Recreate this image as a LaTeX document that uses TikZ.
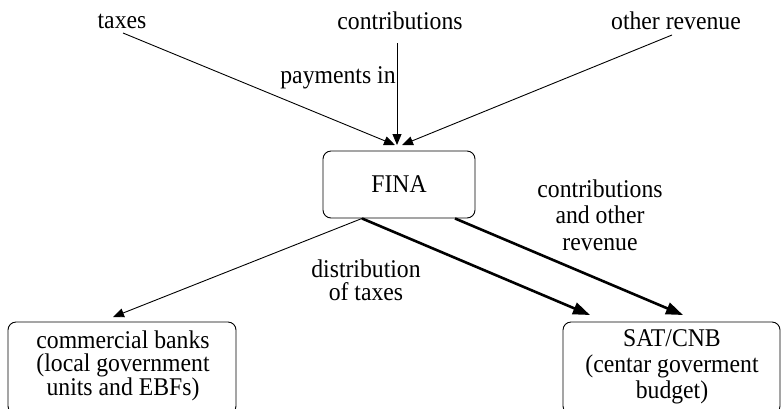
\documentclass[tikz,border=0pt]{standalone}
\usepackage{fontspec}
\setmainfont{Liberation Serif}[FakeStretch=0.93]
\usetikzlibrary{arrows.meta}
\begin{document}
\begin{tikzpicture}[x=1pt,y=-1pt,
  lbl/.style={font=\fontsize{25.5}{25}\selectfont, inner sep=0pt, align=center},
  box/.style={draw, rounded corners=8pt, line width=0.9pt, inner sep=0pt},
  thinarrow/.style={line width=0.9pt, -{Triangle[length=11pt,width=9pt]}},
  thickarrow/.style={line width=2.6pt, -{Triangle[length=17pt,width=12pt]}}]
\useasboundingbox (0,0) rectangle (781,408);
\clip (0,0) rectangle (781,408);

% boxes
\node[box, minimum width=152, minimum height=67] (fina) at (399,184.5) {};
\node[lbl] (finat) at (399,184) {FINA};
\node[box, minimum width=228, minimum height=92] (banks) at (122,368) {};
\node[lbl, font=\fontsize{25.5}{23}\selectfont] (bankst) at (123,366) {commercial banks\\(local government\\units and EBFs)};
\node[box, minimum width=217, minimum height=92] (sat) at (671.5,368) {};
\node[lbl, font=\fontsize{25.5}{26}\selectfont] (satt) at (672,367) {SAT/CNB\\(centar goverment\\budget)};

% top labels
\node[lbl] (taxes) at (122,21) {taxes};
\node[lbl] (contr) at (400,21) {contributions};
\node[lbl] (other) at (676,21) {other revenue};
\node[lbl] (payin) at (338,78) {payments in};
\node[lbl, font=\fontsize{25.5}{23}\selectfont] (dist) at (366,280) {distribution\\of taxes};
\node[lbl, font=\fontsize{25.5}{26.5}\selectfont] (cor) at (600,215) {contributions\\and other\\revenue};

% coordinates
\coordinate (s1) at (123,33);
\coordinate (s2) at (397,43);
\coordinate (s3) at (672,35);
\coordinate (t1) at (395,145);
\coordinate (t2) at (397,145);
\coordinate (t3) at (402,145);
\coordinate (f1) at ([xshift=-37]fina.south);
\coordinate (f2) at ([xshift=56]fina.south);
\coordinate (b1) at (113,317);
\coordinate (c1) at (590,315);
\coordinate (c2) at (683,315);

\draw[thinarrow] (s1) -- (t1);
\draw[thinarrow] (s2) -- (t2);
\draw[thinarrow] (s3) -- (t3);
\draw[thinarrow] (f1) -- (b1);
\draw[thickarrow] (f1) -- (c1);
\draw[thickarrow] (f2) -- (c2);
\end{tikzpicture}
\end{document}
